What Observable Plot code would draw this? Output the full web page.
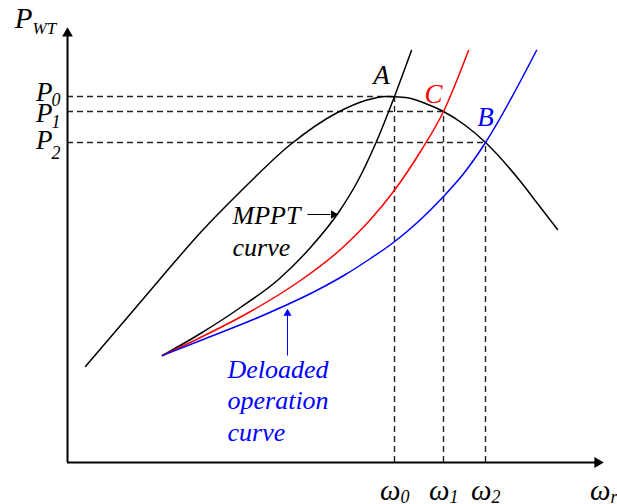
<!DOCTYPE html>
<html>
<head>
<meta charset="utf-8">
<script src="https://cdn.jsdelivr.net/npm/d3@7"></script>
<script src="https://cdn.jsdelivr.net/npm/@observablehq/plot@0.6"></script>
<style>
  html, body { margin: 0; padding: 0; background: #fff; }
  svg { display: block; }
</style>
</head>
<body>
<script>
// ---- data (arbitrary units: rotor speed ω vs turbine power P) ----
const powerW = [18, 53, 93, 133, 173, 223, 270, 298, 318, 338, 358, 376, 398, 418, 453, 470, 490];
const powerP = [96, 137, 184, 230, 271, 318, 350, 362, 366, 365, 359, 351, 337, 320, 281, 259, 233];

const mpptW = [95, 133, 173, 211, 243, 271, 290, 309, 327, 344];
const mpptP = [107, 129, 155, 183, 215, 250, 281, 321, 366, 412];

const redW = [95, 133, 183, 233, 273, 303, 326, 353, 376, 401];
const redP = [107, 125, 151, 182, 213, 243, 271, 311, 351, 412];

const blueW = [95, 133, 193, 251, 278, 303, 326, 376, 397, 418, 469];
const blueP = [107, 122, 146, 173, 188, 204, 220, 266, 290, 320, 412];

// operating points A (MPPT), C, B
const opNames = ["A", "C", "B"];
const opW = [327, 376, 418];
const opP = [366, 351, 320];
const opColors = ["black", "#ff0000", "#0000ff"];
const omegaSubs = ["0", "1", "2"];
const powerSubs = ["0", "1", "2"];

// axis extents
const axisMaxW = 536;
const axisMaxP = 435;

// annotations: anchor points on curves
const mpptNote = {x: 271, y: 248, text: "MPPT\ncurve"};
const deloadNote = {x: 220, y: 154, text: "Deloaded\noperation\ncurve"};

// ---- drawing ----
const serif = "Liberation Serif";
const pw = powerW.map((w, i) => ({w, p: powerP[i]}));
const mp = mpptW.map((w, i) => ({w, p: mpptP[i]}));
const rd = redW.map((w, i) => ({w, p: redP[i]}));
const bl = blueW.map((w, i) => ({w, p: blueP[i]}));
const ops = opNames.map((n, i) => ({n, w: opW[i], p: opP[i], c: opColors[i], ws: omegaSubs[i], ps: powerSubs[i]}));

const dash = {stroke: "#222", strokeWidth: 1.4, strokeDasharray: "6,4"};
const txt = {fontFamily: serif, fontStyle: "italic", lineAnchor: "bottom"};

// per-label tweaks of the P tick labels (pixel offsets: [P baseline, subscript baseline])
const pOffsets = [[4, 9], [10, 16], [6, 16]];
const letterOffsets = [[-13, -13], [-10, -9], [0, -17]];

const pLabelMarks = ops.flatMap((o, i) => [
  Plot.text([o], {x: 0, y: "p", text: () => "P", textAnchor: "end", dx: -15, dy: pOffsets[i][0], fontSize: 27, fill: "black", ...txt}),
  Plot.text([o], {x: 0, y: "p", text: "ps", textAnchor: "start", dx: -16, dy: pOffsets[i][1], fontSize: 18, fill: "black", ...txt})
]);
const letterMarks = ops.map((o, i) =>
  Plot.text([o], {x: "w", y: "p", text: "n", textAnchor: "middle", dx: letterOffsets[i][0], dy: letterOffsets[i][1], fontSize: 27, fill: "c", ...txt})
);

const chart = Plot.plot({
  width: 617,
  height: 504,
  margin: 0,
  x: {domain: [0, 550], range: [67, 617], axis: null},
  y: {domain: [0, 462], range: [462, 0], axis: null},
  style: {background: "white", overflow: "visible"},
  marks: [
    // dashed guides
    Plot.ruleY(ops, {y: "p", x1: 0, x2: "w", ...dash}),
    Plot.ruleX(ops, {x: "w", y1: 0, y2: "p", ...dash}),
    // curves
    Plot.line(pw, {x: "w", y: "p", curve: "monotone-x", stroke: "black", strokeWidth: 1.5}),
    Plot.line(mp, {x: "w", y: "p", curve: "monotone-x", stroke: "black", strokeWidth: 1.5}),
    Plot.line(rd, {x: "w", y: "p", curve: "monotone-x", stroke: "#ff0000", strokeWidth: 1.5}),
    Plot.line(bl, {x: "w", y: "p", curve: "monotone-x", stroke: "#0000ff", strokeWidth: 1.5}),
    // axes
    Plot.ruleY([0], {x1: 0, x2: axisMaxW - 8, stroke: "black", strokeWidth: 2}),
    Plot.ruleX([0], {y1: 0, y2: axisMaxP - 8, stroke: "black", strokeWidth: 2}),
    Plot.dot([0], {x: axisMaxW, y: 0, symbol: "triangle", r: 4, rotate: 90, dx: -6, fill: "black", stroke: "none"}),
    Plot.dot([0], {x: 0, y: axisMaxP, symbol: "triangle", r: 4, dy: 6, fill: "black", stroke: "none"}),
    // axis titles
    Plot.text([0], {x: 0, y: axisMaxP, text: () => "P", textAnchor: "end", dx: -35, fontSize: 29, fill: "black", ...txt}),
    Plot.text([0], {x: 0, y: axisMaxP, text: () => "WT", textAnchor: "start", dx: -35, dy: 6, fontSize: 17, fill: "black", ...txt}),
    Plot.text([0], {x: axisMaxW, y: 0, text: () => "\u03c9", textAnchor: "end", dx: 7, dy: 37, fontSize: 29, fill: "black", ...txt}),
    Plot.text([0], {x: axisMaxW, y: 0, text: () => "r", textAnchor: "start", dx: 7, dy: 40, fontSize: 18, fill: "black", ...txt}),
    // tick labels
    ...pLabelMarks,
    Plot.text(ops, {x: "w", y: 0, text: () => "\u03c9", textAnchor: "end", dx: 6, dy: 37, fontSize: 29, fill: "black", ...txt}),
    Plot.text(ops, {x: "w", y: 0, text: "ws", textAnchor: "start", dx: 6, dy: 40, fontSize: 18, fill: "black", ...txt}),
    // operating point letters
    ...letterMarks,
    // MPPT annotation
    Plot.link([mpptNote], {x1: d => d.x - 31, x2: d => d.x - 8, y1: "y", y2: "y", stroke: "black", strokeWidth: 1}),
    Plot.dot([mpptNote], {x: "x", y: "y", symbol: "triangle", r: 3.2, rotate: 90, dx: -5, fill: "black", stroke: "none"}),
    Plot.text([mpptNote], {x: d => d.x - 106, y: d => d.y - 41, text: "text", textAnchor: "start", fontSize: 26, lineHeight: 1.23, fill: "black", ...txt}),
    // Deloaded annotation
    Plot.link([deloadNote], {x1: "x", x2: "x", y1: d => d.y - 47, y2: d => d.y - 6, stroke: "#0000ff", strokeWidth: 1}),
    Plot.dot([deloadNote], {x: "x", y: "y", symbol: "triangle", r: 3, dy: 5, fill: "#0000ff", stroke: "none"}),
    Plot.text([deloadNote], {x: d => d.x - 60, y: d => d.y - 132, text: "text", textAnchor: "start", fontSize: 26, lineHeight: 1.21, fill: "#0000ff", ...txt})
  ]
});
document.body.appendChild(chart);
</script>
</body>
</html>
